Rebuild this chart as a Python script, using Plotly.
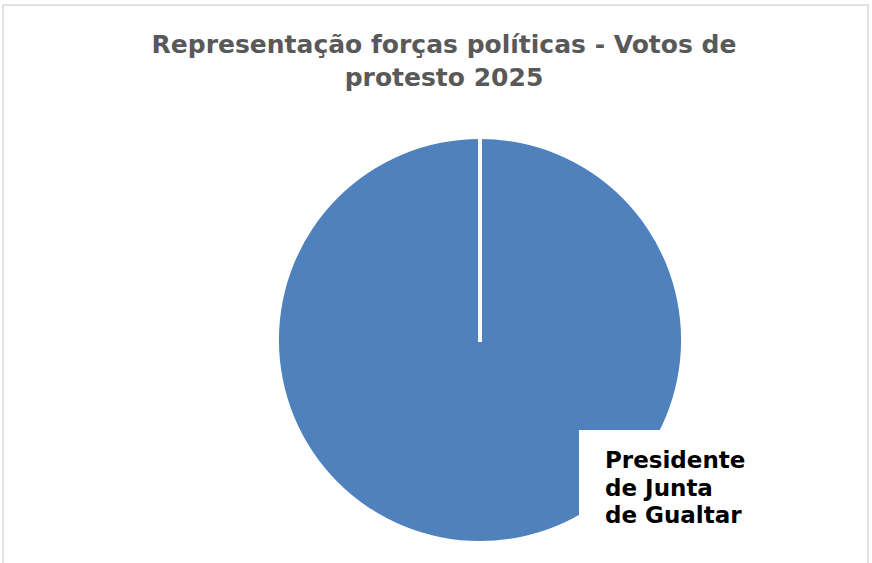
import plotly.graph_objects as go

title_lines = ["Representação forças políticas - Votos de", "protesto 2025"]
labels = ["Presidente de Junta de Gualtar"]
values = [1]
label_lines = ["Presidente", "de Junta", "de Gualtar"]

W, H = 872, 563
cx, cy, r = 480, 340, 201
FONT = "DejaVu Sans, Verdana, sans-serif"

fig = go.Figure(go.Pie(
    labels=labels,
    values=values,
    sort=False,
    direction="clockwise",
    rotation=0,
    textinfo="none",
    hoverinfo="label+percent",
    marker=dict(colors=["#4f81bd"], line=dict(color="white", width=0)),
    domain=dict(x=[(cx - r) / W, (cx + r) / W], y=[(H - cy - r) / H, (H - cy + r) / H]),
    showlegend=False,
))

label_baselines = [468, 496, 523]
annotations = []
for line, base in zip(label_lines, label_baselines):
    annotations.append(dict(
        text="<b>" + line + "</b>", xref="paper", yref="paper",
        x=603 / W, y=1 - (base - 8) / H, xanchor="left", yanchor="middle", align="left",
        showarrow=False, font=dict(size=23, color="black", family=FONT)))

fig.update_layout(
    width=W, height=H, autosize=False,
    margin=dict(l=0, r=0, t=0, b=0),
    paper_bgcolor="white", plot_bgcolor="white",
    font=dict(family=FONT),
    title=dict(text="<b>" + "<br>".join(title_lines) + "</b>", x=444 / W, xanchor="center",
               y=1 - 53 / H, yanchor="top", yref="container",
               font=dict(size=25, color="#595959", family=FONT)),
    shapes=[
        dict(type="rect", xref="paper", yref="paper", x0=3 / W, x1=868 / W, y0=-0.01, y1=1 - 5 / H,
             line=dict(color="#d9d9d9", width=1.5), fillcolor="rgba(0,0,0,0)", layer="below"),
        dict(type="line", xref="paper", yref="paper", x0=cx / W, x1=cx / W,
             y0=1 - (cy + 2) / H, y1=1 - (cy - r - 1) / H,
             line=dict(color="white", width=4), layer="above"),
        dict(type="rect", xref="paper", yref="paper", x0=579 / W, x1=867 / W, y0=-0.01, y1=1 - 430 / H,
             line=dict(width=0), fillcolor="white", layer="above"),
    ],
    annotations=annotations,
)

fig.write_html("out.html", config={"displayModeBar": False},
               post_script="document.body.style.margin='0';")
